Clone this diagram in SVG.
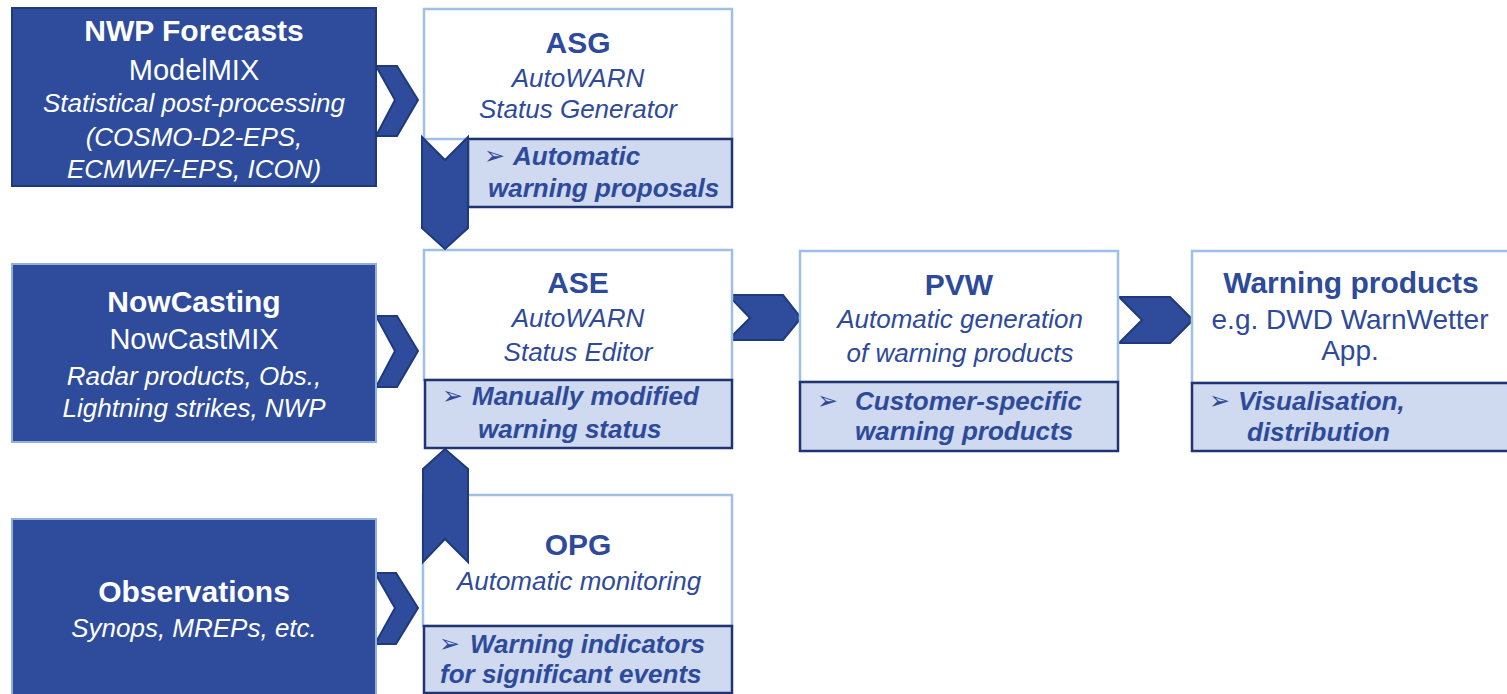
<svg xmlns="http://www.w3.org/2000/svg" width="1507" height="694" viewBox="0 0 1507 694">
<style>
.dark{fill:#2E4C9B;stroke:#1F3A7A;stroke-width:2}
.darkL{fill:#2E4C9B;stroke:#8FB0DA;stroke-width:2}
.white{fill:#FFFFFF;stroke:#9DC0E4;stroke-width:2.5}
.sub{fill:#CFD9F0;stroke:#1F3470;stroke-width:2.5}
.chev{fill:#2E4C9B;stroke:#1F3A7A;stroke-width:2;stroke-linejoin:miter}
text{font-family:"Liberation Sans",Arial,sans-serif}
.wt{fill:#FFFFFF;text-anchor:middle}
.bt{fill:#2E4A9A;text-anchor:middle}
.h{font-weight:bold;font-size:30px}
.r{font-size:29px}
.i{font-style:italic;font-size:26px}
.s{fill:#2E4A9A;font-weight:bold;font-style:italic;font-size:26px}
.ar{fill:#2E4A9A;font-family:"DejaVu Sans",sans-serif;font-size:25px}
</style>

<g id="connectors">
  <polygon class="chev" points="376,66 397,66 418,100 397,136 376,136 395,100"/>
  <polygon class="chev" points="376,316 397,316 418,351 397,387 376,387 395,351"/>
  <polygon class="chev" points="375,573 396,573 418,608 396,644 375,644 395,608"/>
  <polygon class="chev" points="728,295 783,295 801,318 783,340 728,340 750,318"/>
  <polygon class="chev" points="1119,297 1170,297 1193,320 1170,343 1119,343 1142,320"/>
</g>

<g id="nwp">
  <rect class="dark" x="12" y="8" width="364" height="178"/>
  <text class="wt h" x="194" y="41">NWP Forecasts</text>
  <text class="wt r" x="194" y="80">ModelMIX</text>
  <text class="wt i" x="194" y="112">Statistical post-processing</text>
  <text class="wt i" x="194" y="146">(COSMO-D2-EPS,</text>
  <text class="wt i" x="194" y="178">ECMWF/-EPS, ICON)</text>
</g>

<g id="nowcasting">
  <rect class="darkL" x="12" y="264" width="364" height="178"/>
  <text class="wt h" x="194" y="312">NowCasting</text>
  <text class="wt r" x="194" y="349">NowCastMIX</text>
  <text class="wt i" x="194" y="385">Radar products, Obs.,</text>
  <text class="wt i" x="194" y="417">Lightning strikes, NWP</text>
</g>

<g id="observations">
  <rect class="darkL" x="12" y="519" width="364" height="180"/>
  <text class="wt h" x="194" y="602">Observations</text>
  <text class="wt i" x="194" y="637">Synops, MREPs, etc.</text>
</g>

<g id="asg">
  <rect class="white" x="424" y="9" width="308" height="130"/>
  <rect class="sub" x="468" y="139" width="264" height="68"/>
  <text class="bt h" x="578" y="53">ASG</text>
  <text class="bt i" x="578" y="87">AutoWARN</text>
  <text class="bt i" x="578" y="118">Status Generator</text>
  <text class="ar" x="484" y="164">➢</text>
  <text class="s" x="513" y="165">Automatic</text>
  <text class="s" x="488" y="197">warning proposals</text>
</g>

<g id="ase">
  <rect class="white" x="424" y="250" width="308" height="130"/>
  <rect class="sub" x="425" y="380" width="307" height="68"/>
  <text class="bt h" x="578" y="293">ASE</text>
  <text class="bt i" x="578" y="327">AutoWARN</text>
  <text class="bt i" x="578" y="361">Status Editor</text>
  <text class="ar" x="442" y="404">➢</text>
  <text class="s" x="472" y="405">Manually modified</text>
  <text class="s" x="478" y="438">warning status</text>
</g>

<g id="opg">
  <rect class="white" x="423" y="495" width="309" height="131"/>
  <rect class="sub" x="424" y="626" width="308" height="67"/>
  <text class="bt h" x="578" y="555">OPG</text>
  <text class="bt i" x="579" y="590">Automatic monitoring</text>
  <text class="ar" x="439" y="652">➢</text>
  <text class="s" x="470" y="653">Warning indicators</text>
  <text class="s" x="440" y="683">for significant events</text>
</g>

<g id="pvw">
  <rect class="white" x="800" y="251" width="318" height="131"/>
  <rect class="sub" x="800" y="382" width="318" height="69"/>
  <text class="bt h" x="959" y="295">PVW</text>
  <text class="bt i" x="960" y="328">Automatic generation</text>
  <text class="bt i" x="960" y="362">of warning products</text>
  <text class="ar" x="817" y="409">➢</text>
  <text class="s" x="855" y="410">Customer-specific</text>
  <text class="s" x="855" y="440">warning products</text>
</g>

<g id="warning-products">
  <rect class="white" x="1192" y="251" width="320" height="132"/>
  <rect class="sub" x="1192" y="383" width="320" height="68"/>
  <text class="bt h" x="1351" y="293">Warning products</text>
  <text class="bt" style="font-size:28px" x="1350" y="329">e.g. DWD WarnWetter</text>
  <text class="bt" style="font-size:28px" x="1350" y="360">App.</text>
  <text class="ar" x="1209" y="409">➢</text>
  <text class="s" x="1238" y="410">Visualisation,</text>
  <text class="s" x="1247" y="441">distribution</text>
</g>

<g id="vertical-connectors">
  <polygon class="chev" points="422,137 445,160 468,137 468,228 445,249 422,228"/>
  <polygon class="chev" points="423,469 445,449 468,469 468,562 445,539 423,562"/>
</g>
</svg>
